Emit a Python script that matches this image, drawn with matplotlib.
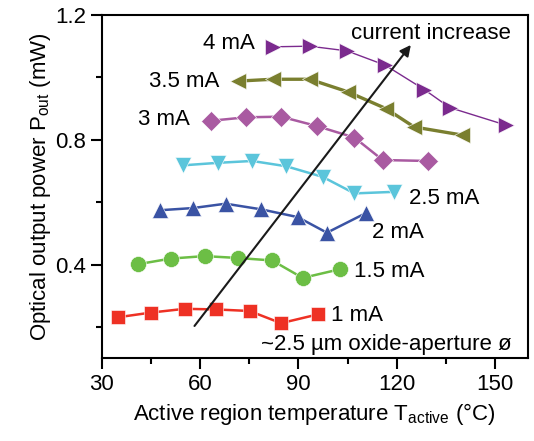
import matplotlib
matplotlib.use("Agg")
import matplotlib.pyplot as plt

plt.rcParams['font.family'] = ['Liberation Sans', 'DejaVu Sans']
plt.rcParams['mathtext.fontset'] = 'custom'
plt.rcParams['mathtext.rm'] = 'Liberation Sans'

# temperature (degC) and output power (mW) per bias current
t_1 = [35.0, 45.1, 55.3, 64.9, 75.1, 84.7, 95.9]
p_1 = [0.231, 0.246, 0.258, 0.256, 0.251, 0.212, 0.240]
t_15 = [41.1, 51.0, 61.4, 71.5, 82.0, 91.3, 102.7]
p_15 = [0.401, 0.419, 0.427, 0.421, 0.413, 0.357, 0.385]
t_2 = [47.7, 57.8, 67.8, 78.6, 89.8, 98.7, 110.6]
p_2 = [0.574, 0.581, 0.595, 0.577, 0.552, 0.502, 0.565]
t_25 = [54.8, 65.4, 75.9, 86.3, 97.4, 107.1, 119.2]
p_25 = [0.718, 0.726, 0.732, 0.715, 0.681, 0.628, 0.633]
t_3 = [63.4, 74.0, 84.7, 95.6, 107.1, 115.7, 129.4]
p_3 = [0.861, 0.872, 0.874, 0.844, 0.807, 0.735, 0.732]
t_35 = [71.5, 82.2, 93.4, 105.0, 116.7, 125.3, 140.0]
p_35 = [0.988, 0.994, 0.994, 0.954, 0.900, 0.841, 0.815]
t_4 = [82.2, 93.4, 104.8, 116.5, 128.4, 136.2, 153.3]
p_4 = [1.098, 1.100, 1.085, 1.039, 0.961, 0.903, 0.847]

series = [
    (t_1, p_1, 's', '#ee3124', 1.8, 10),
    (t_15, p_15, 'o', '#6cbe45', 1.8, 11.5),
    (t_2, p_2, '^', '#3a53a4', 1.8, 12),
    (t_25, p_25, 'v', '#5bc5db', 1.8, 12),
    (t_3, p_3, 'D', '#a95aa1', 1.8, 10),
    (t_35, p_35, '<', '#7a7f2f', 2.4, 12),
    (t_4, p_4, '>', '#7b2a8e', 1.0, 12),
]

fig = plt.figure(figsize=(5.34, 4.41), dpi=100)
ax = fig.add_axes([0.1905, 0.188, 0.798, 0.778])

for t, p, m, c, lw, ms in series:
    ax.plot(t, p, marker=m, color=c, lw=lw, ms=ms,
            mec='white', mew=0.4, clip_on=False)

fs = 16
ax.set_xlim(30, 160)
ax.set_ylim(0.1, 1.2)
ax.set_xticks([30, 60, 90, 120, 150])
ax.set_xticks([45, 75, 105, 135], minor=True)
ax.set_yticks([0.4, 0.8, 1.2])
ax.set_yticks([0.2, 0.6, 1.0], minor=True)
ax.tick_params(which='major', direction='out', length=8, width=1.5,
               labelsize=fs, top=False, right=False)
ax.tick_params(which='minor', direction='out', length=4, width=1.5,
               top=False, right=False)
for s in ax.spines.values():
    s.set_linewidth(1.5)

ax.set_xlabel(r'Active region temperature T$_{\mathregular{active}}$ (°C)', fontsize=fs)
ax.set_ylabel(r'Optical output power P$_{\mathregular{out}}$ (mW)', fontsize=fs,
              labelpad=1)

ax.text(76.6, 1.110, '4 mA', fontsize=fs, ha='right', va='center')
ax.text(66.0, 0.988, '3.5 mA', fontsize=fs, ha='right', va='center')
ax.text(56.8, 0.866, '3 mA', fontsize=fs, ha='right', va='center')
ax.text(123.8, 0.613, '2.5 mA', fontsize=fs, ha='left', va='center')
ax.text(112.5, 0.503, '2 mA', fontsize=fs, ha='left', va='center')
ax.text(107.0, 0.378, '1.5 mA', fontsize=fs, ha='left', va='center')
ax.text(100.0, 0.237, '1 mA', fontsize=fs, ha='left', va='center')
ax.text(154.9, 0.144, '~2.5 µm oxide-aperture ø', fontsize=fs, ha='right', va='center')
ax.text(154.9, 1.142, 'current increase', fontsize=fs, ha='right', va='center')

ax.annotate('', xy=(124.3, 1.104), xytext=(58.3, 0.203),
            arrowprops=dict(arrowstyle='-|>', color='#1a1a1a', lw=1.5,
                            mutation_scale=16, shrinkA=0, shrinkB=0))

fig.savefig('out.png', dpi=100)
